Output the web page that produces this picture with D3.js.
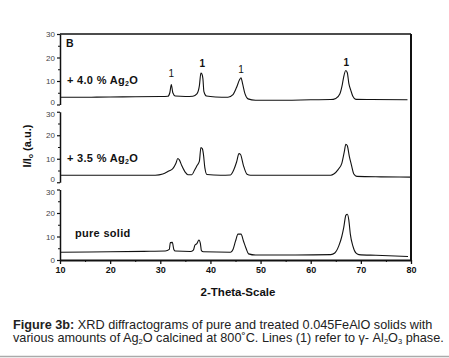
<!DOCTYPE html>
<html>
<head>
<meta charset="utf-8">
<script src="https://cdn.jsdelivr.net/npm/d3@7"></script>
<style>
  body { margin: 0; background: #fff; }
  svg text { font-family: "Liberation Sans", Arial, sans-serif; }
</style>
</head>
<body>
<div id="chart"></div>
<script>
// 2-theta, intensity pairs
const ag40 = [[10,3.1],[15,3.1],[20,3.2],[25,3.3],[30,3.4],[31.5,3.5],[31.9,5],[32.2,8.5],[32.5,5],[33,3.6],[35,3.4],[36.5,3.5],
  [37.3,4.5],[37.8,8],[38.1,13.4],[38.3,13],[38.5,11],[38.7,5.5],[39.2,3.6],[41,3.2],[43.5,3.1],[44.5,4.2],[45.2,7.2],
  [45.8,10.5],[46.1,11.4],[46.4,9],[46.9,4.5],[47.5,2.4],[49,1.8],[55,1.8],[60,2.0],[64,2.1],[65,2.6],[65.8,4.5],
  [66.3,8.5],[66.6,12],[67.0,14.5],[67.3,13.5],[67.6,9],[68.0,6],[68.4,3.5],[69,2.2],[72,2.1],[79.3,2.0]];
const ag35 = [[10,3.0],[20,3.0],[29,3.0],[30.5,3.5],[31.7,4.8],[32.5,5.8],[33.1,8],[33.5,10.1],[33.8,9.5],[34.3,7],[35,4.2],
  [35.5,3.2],[36.3,3.2],[36.8,5],[37.3,7],[37.8,9],[38.1,14.8],[38.4,14.2],[38.6,12],[38.9,6],[39.3,3.3],[42,3.0],
  [44,3.1],[44.7,5.5],[45.2,8.5],[45.7,12.2],[46,11.8],[46.6,7],[47.3,3.4],[48,3.0],[55,3.0],[64,3.0],[64.6,3.5],
  [65.5,5.5],[66.2,8],[66.7,13],[67.0,16.2],[67.3,15.5],[67.7,11],[68.1,7.5],[68.6,3.5],[69.2,2.5],[74,2.3],[80,2.2]];
const pure = [[10,3.3],[20,3.5],[28,3.7],[31,3.8],[31.8,4.5],[32.0,7.4],[32.4,7.5],[32.7,4.5],[33,3.8],[36,3.6],[36.6,4.2],
  [36.9,6.3],[37.3,7],[37.7,8.5],[38,7],[38.2,4],[38.6,3.5],[44,3.3],[44.5,4.5],[45,8],[45.5,11],[46.1,11],[46.6,8],
  [47.1,5],[47.6,2.6],[49,2.1],[57,2.1],[64,2.3],[64.8,3],[65.6,6],[66.2,10],[66.6,14],[67.0,19],[67.3,19.5],[67.6,17],
  [67.9,11],[68.4,6],[69.0,3],[69.6,2.3],[73,2.0],[79.4,1.5]];

const panelSeries = [ag40, ag35, pure];
const panelLabels = ["+ 4.0 % Ag|2|O", "+ 3.5 % Ag|2|O", "pure solid"];
const xTicks = [10, 20, 30, 40, 50, 60, 70, 80];
const yTicks = [0, 10, 20, 30];
const peakX = [32.2, 38.4, 46.1, 67.1];
const peakLabelY = [11.7, 16, 13.4, 16.5];

const W = 449, H = 358;
const mLeft = 60, mRight = 411, mTop = 34, mBottom = 260;
const gap = 7.25;
const ph = (mBottom - mTop - 2 * gap) / 3;

const svg = d3.select("#chart").append("svg")
  .attr("width", W).attr("height", H);
svg.append("rect").attr("width", W).attr("height", H).attr("fill", "#fff");

const x = d3.scaleLinear().domain([10, 80]).range([mLeft, mRight]);

const line = d3.line().curve(d3.curveMonotoneX);

panelSeries.forEach((data, i) => {
  const y0 = mTop + i * (ph + gap);
  const y = d3.scaleLinear().domain([0, 30]).range([y0 + ph, y0]);
  const g = svg.append("g");

  // left axis for this panel
  const yAxis = d3.axisLeft(y).tickValues(yTicks).tickSize(3).tickSizeOuter(0).tickPadding(2);
  const ga = g.append("g").attr("transform", `translate(${mLeft},0)`).call(yAxis);
  ga.select(".domain").attr("stroke", "#111").attr("stroke-width", 1.5);
  ga.selectAll(".tick line").attr("stroke", "#111").attr("stroke-width", 1.2);
  ga.selectAll(".tick text").attr("font-size", 8).attr("fill", "#444")
    .attr("font-family", "Liberation Sans, Arial, sans-serif")
    .attr("dy", d => {
      // nudge the crowded 0 / 30 labels at the panel joins
      if (d === 0 && i < 2) return "-0.05em";
      if (d === 30 && i > 0) return "0.62em";
      return "0.32em";
    });
  g.append("g").attr("transform", `translate(${mLeft},0)`)
    .call(d3.axisLeft(y).tickValues([5, 15, 25]).tickSize(2).tickFormat(""))
    .call(a => a.select(".domain").remove())
    .selectAll("line").attr("stroke", "#111");

  g.append("path")
    .datum(data)
    .attr("d", line.x(d => x(d[0])).y(d => y(d[1])))
    .attr("fill", "none").attr("stroke", "#111").attr("stroke-width", 1.1);

  // sample label with subscript
  const parts = panelLabels[i].split("|");
  const t = g.append("text")
    .attr("x", i === 2 ? 75 : 67)
    .attr("y", y(i === 2 ? 9.6 : 8.8))
    .attr("font-size", 11).attr("font-weight", "bold").attr("fill", "#111")
    .attr("letter-spacing", 0.3);
  t.append("tspan").text(parts[0]);
  if (parts.length > 1) {
    t.append("tspan").attr("font-size", 7).attr("dy", 2).text(parts[1]);
    t.append("tspan").attr("dy", -2).text(parts[2]);
  }

  if (i === 0) {
    g.selectAll(".peak").data(peakX).join("text")
      .attr("x", d => x(d))
      .attr("y", (d, j) => y(peakLabelY[j]))
      .attr("text-anchor", "middle")
      .attr("font-size", 10).attr("font-weight", (d, j) => j === 1 || j === 3 ? "bold" : "normal")
      .attr("fill", "#111")
      .text("1");
    g.append("text").attr("x", 66).attr("y", 47)
      .attr("font-size", 10.5).attr("font-weight", "bold").attr("fill", "#111").text("B");
  }
});

// frame: top and right
svg.append("line").attr("x1", mLeft).attr("x2", mRight).attr("y1", mTop).attr("y2", mTop)
  .attr("stroke", "#111").attr("stroke-width", 1.5);
svg.append("line").attr("x1", mRight).attr("x2", mRight).attr("y1", mTop).attr("y2", mBottom)
  .attr("stroke", "#111").attr("stroke-width", 2);

// bottom axis
const xa = svg.append("g").attr("transform", `translate(0,${mBottom})`)
  .call(d3.axisBottom(x).tickValues(xTicks).tickSize(4).tickSizeOuter(0).tickPadding(3));
xa.select(".domain").attr("stroke", "#111").attr("stroke-width", 2);
xa.selectAll(".tick line").attr("stroke", "#111").attr("stroke-width", 1.3);
xa.selectAll(".tick text").attr("font-size", 9).attr("font-weight", "bold").attr("fill", "#111")
  .attr("font-family", "Liberation Sans, Arial, sans-serif");
svg.append("g").attr("transform", `translate(0,${mBottom})`)
  .call(d3.axisBottom(x).tickValues(d3.range(15, 80, 10)).tickSize(2).tickFormat(""))
  .call(a => a.select(".domain").remove())
  .selectAll("line").attr("stroke", "#111");

svg.append("text").attr("x", 238).attr("y", 296)
  .attr("text-anchor", "middle").attr("font-size", 11.5).attr("font-weight", "bold")
  .attr("fill", "#111").text("2-Theta-Scale");

const yl = svg.append("text")
  .attr("transform", "translate(31,146) rotate(-90)")
  .attr("text-anchor", "middle").attr("font-size", 11).attr("font-weight", "bold").attr("fill", "#111");
yl.append("tspan").text("I/I");
yl.append("tspan").attr("font-size", 7).attr("dy", 2).text("o");
yl.append("tspan").attr("dy", -2).text(" (a.u.)");

// caption
const cap = svg.append("g").attr("font-size", 12.7).attr("fill", "#222");
const c1 = cap.append("text").attr("x", 13).attr("y", 329);
c1.append("tspan").attr("font-weight", "bold").text("Figure 3b:");
c1.append("tspan").text(" XRD diffractograms of pure and treated 0.045FeAlO solids with");
const c2 = cap.append("text").attr("x", 13).attr("y", 342);
c2.append("tspan").text("various amounts of Ag");
c2.append("tspan").attr("font-size", 7.5).attr("dy", 2).text("2");
c2.append("tspan").attr("dy", -2).text("O calcined at 800˚C. Lines (1) refer to γ- Al");
c2.append("tspan").attr("font-size", 7.5).attr("dy", 2).text("2");
c2.append("tspan").attr("dy", -2).text("O");
c2.append("tspan").attr("font-size", 7.5).attr("dy", 2).text("3");
c2.append("tspan").attr("dy", -2).text(" phase.");

svg.append("line").attr("x1", 0).attr("x2", W).attr("y1", 356.5).attr("y2", 356.5)
  .attr("stroke", "#aaa").attr("stroke-width", 1.5);
</script>
</body>
</html>
